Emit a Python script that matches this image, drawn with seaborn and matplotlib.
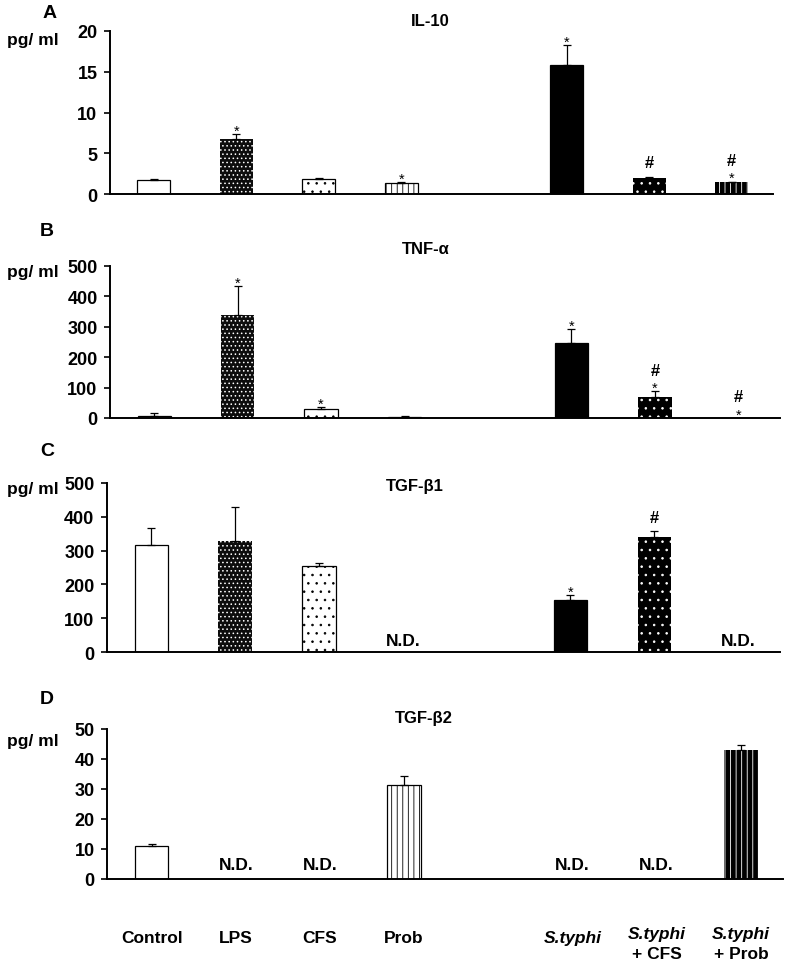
import numpy as np
import pandas as pd
import matplotlib
matplotlib.use("Agg")
import matplotlib.pyplot as plt
import matplotlib.transforms as mtransforms
import seaborn as sns

# categories (slot "gap" is the empty space between the two groups)
groups = ["Control", "LPS", "CFS", "Prob", "gap", "S.typhi", "S.typhi + CFS", "S.typhi + Prob"]

il10_mean = [1.7, 6.75, 1.9, 1.35, np.nan, 15.8, 1.93, 1.43]
il10_err = [0.1, 0.65, 0.1, 0.1, np.nan, 2.5, 0.2, 0.1]
tnf_mean = [8, 338, 30, 3, np.nan, 246, 69, 0]
tnf_err = [7, 96, 6, 3, np.nan, 47, 19, 0]
tgfb1_mean = [317, 327, 253, np.nan, np.nan, 154, 339, np.nan]
tgfb1_err = [49, 102, 9, np.nan, np.nan, 14, 18, np.nan]
tgfb2_mean = [10.9, np.nan, np.nan, 31.4, np.nan, np.nan, np.nan, 43.1]
tgfb2_err = [0.8, np.nan, np.nan, 2.9, np.nan, np.nan, np.nan, 1.6]

il10_marks = {"LPS": ["*"], "Prob": ["*"], "S.typhi": ["*"], "S.typhi + CFS": ["#"], "S.typhi + Prob": ["*", "#"]}
tnf_marks = {"LPS": ["*"], "CFS": ["*"], "S.typhi": ["*"], "S.typhi + CFS": ["*", "#"], "S.typhi + Prob": ["*", "#"]}
tgfb1_marks = {"S.typhi": ["*"], "S.typhi + CFS": ["#"]}
tgfb2_marks = {}

il10_ticks = [0, 5, 10, 15, 20]
tnf_ticks = [0, 100, 200, 300, 400, 500]
tgfb1_ticks = [0, 100, 200, 300, 400, 500]
tgfb2_ticks = [0, 10, 20, 30, 40, 50]

# bar styles: (facecolor, hatch colour, hatch)
styles = {
    "Control": ("white", "black", None),
    "LPS": ("#0d0d0d", "white", "...."),
    "CFS": ("white", "black", ".."),
    "Prob": ("white", "black", "|||"),
    "S.typhi": ("black", "black", None),
    "S.typhi + CFS": ("black", "white", ".."),
    "S.typhi + Prob": ("black", "white", "|||"),
}

sns.set_theme(style="ticks")
FONT = ["Liberation Sans", "DejaVu Sans"]
plt.rcParams["font.family"] = FONT
plt.rcParams["text.color"] = "black"
plt.rcParams["ytick.color"] = "black"
plt.rcParams["xtick.color"] = "black"
plt.rcParams["hatch.linewidth"] = 0.6

W, H = 786, 962
fig = plt.figure(figsize=(W / 100, H / 100), dpi=100)


def px_axes(x0, x1, ytop, y0):
    return fig.add_axes([x0 / W, 1 - y0 / H, (x1 - x0) / W, (y0 - ytop) / H])


def draw_panel(ax, means, errs, ticks, marks, nd_y, ylab_y):
    df = pd.DataFrame({"group": groups, "value": means})
    sns.barplot(data=df, x="group", y="value", order=groups, ax=ax,
                width=0.4, color="white", errorbar=None, linewidth=0.9,
                edgecolor="black")
    for p in list(ax.patches):
        idx = int(round(p.get_x() + p.get_width() / 2))
        face, hcol, hatch = styles.get(groups[idx], ("white", "black", None))
        p.set_facecolor(face)
        if hatch:
            p.set_hatch(hatch)
            p.set_edgecolor(hcol)
            if hcol == "white":
                p.set_linewidth(0)
    pos = np.arange(len(groups))
    m = np.array(means, dtype=float)
    e = np.array(errs, dtype=float)
    ok = ~np.isnan(m) & (np.nan_to_num(e) > 0)
    ax.errorbar(pos[ok], m[ok], yerr=[np.zeros(ok.sum()), e[ok]], fmt="none",
                ecolor="black", elinewidth=0.9, capsize=3, capthick=0.9)
    top = np.nan_to_num(m) + np.nan_to_num(e)
    for name, syms in marks.items():
        i = groups.index(name)
        for k, s in enumerate(syms):
            if s == "*":
                ax.annotate("*", (i, top[i]), xytext=(0, -0.5), textcoords="offset points",
                            ha="center", va="baseline", fontsize=10.5)
            else:
                off = 12 if k > 0 else 7
                ax.annotate("#", (i, top[i]), xytext=(0, off), textcoords="offset points",
                            ha="center", va="baseline", fontsize=12, fontweight="bold")
    trans = mtransforms.blended_transform_factory(ax.transData, ax.transAxes)
    for i, g in enumerate(groups):
        if g != "gap" and np.isnan(m[i]):
            ax.text(i, nd_y, "N.D.", transform=trans, ha="center", va="center",
                    fontsize=12.5, fontweight="bold")
    ax.set_ylim(ticks[0], ticks[-1])
    ax.set_yticks(ticks)
    ax.set_yticklabels([str(t) for t in ticks], fontsize=13, fontweight="bold")
    ax.set_xlim(-0.53, 7.5)
    ax.set_xlabel("")
    ax.set_ylabel("")
    ax.tick_params(axis="x", length=0, labelbottom=False)
    ax.tick_params(axis="y", length=4, width=1.2, direction="out", pad=5)
    sns.despine(ax=ax)
    for sp in ["left", "bottom"]:
        ax.spines[sp].set_linewidth(1.4)
        ax.spines[sp].set_color("black")
    fig.text(7 / W, 1 - ylab_y / H, "pg/ ml", ha="left", va="center", fontsize=12.5,
             fontweight="bold")


ax_a = px_axes(110, 773, 32, 195)
draw_panel(ax_a, il10_mean, il10_err, il10_ticks, il10_marks, 0.08, 40)
ax_b = px_axes(110, 780, 267, 419)
draw_panel(ax_b, tnf_mean, tnf_err, tnf_ticks, tnf_marks, 0.08, 272)
ax_c = px_axes(107, 780, 484, 653)
draw_panel(ax_c, tgfb1_mean, tgfb1_err, tgfb1_ticks, tgfb1_marks, 0.07, 490)
ax_d = px_axes(107, 783, 730, 880)
draw_panel(ax_d, tgfb2_mean, tgfb2_err, tgfb2_ticks, tgfb2_marks, 0.1, 742)

# panel letters and titles
for letter, (lx, ly) in zip("ABCD", [(50, 13), (47, 232), (47, 452), (47, 700)]):
    fig.text(lx / W, 1 - ly / H, letter, ha="center", va="center", fontsize=14,
             fontweight="black")
for title, (tx, ty) in [("IL-10", (430, 22)), ("TNF-α", (426, 250)),
                        ("TGF-β1", (415, 487)), ("TGF-β2", (424, 719))]:
    fig.text(tx / W, 1 - ty / H, title, ha="center", va="center", fontsize=12,
             fontweight="bold")

# group labels under the last panel
trans_d = mtransforms.blended_transform_factory(ax_d.transData, fig.transFigure)
for i, g in enumerate(groups):
    if g == "gap":
        continue
    if g.startswith("S.typhi"):
        extra = g.replace("S.typhi", "").strip()
        if extra:
            ax_d.text(i, 1 - 935 / H, "S.typhi", transform=trans_d, ha="center", va="center",
                      fontsize=12.5, fontweight="bold", style="italic")
            ax_d.text(i, 1 - 955 / H, extra, transform=trans_d, ha="center", va="center",
                      fontsize=12.5, fontweight="bold")
        else:
            ax_d.text(i, 1 - 939 / H, g, transform=trans_d, ha="center", va="center",
                      fontsize=12.5, fontweight="bold", style="italic")
    else:
        ax_d.text(i, 1 - 939 / H, g, transform=trans_d, ha="center", va="center",
                  fontsize=12.5, fontweight="bold")

fig.savefig("out.png", dpi=100)
